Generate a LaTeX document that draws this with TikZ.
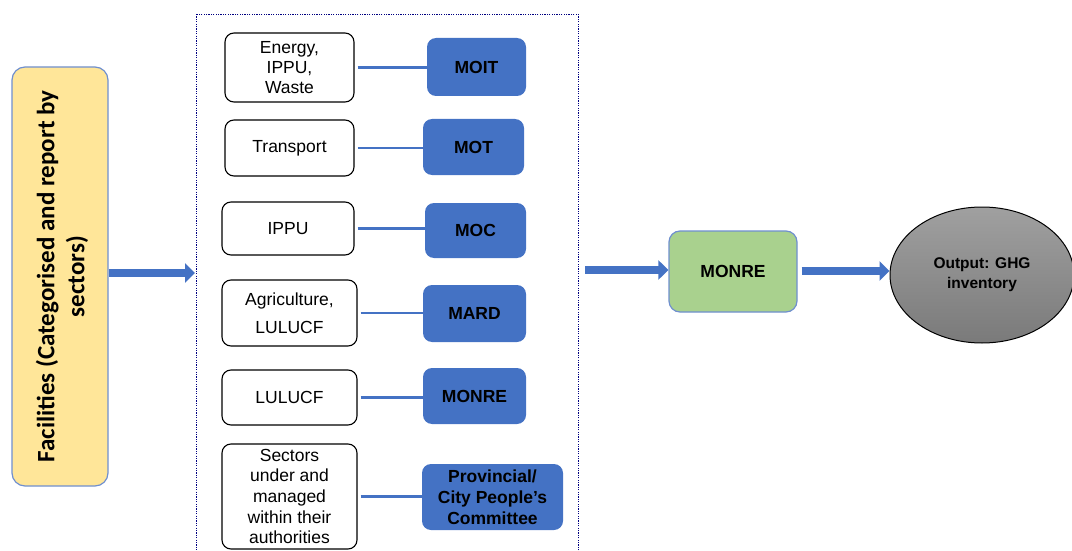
\documentclass[tikz,border=0pt]{standalone}
\usepackage{fontspec}
\setmainfont{Liberation Sans}
\newfontfamily\calibrifont{Carlito}
\usepackage{tikz}
\usetikzlibrary{arrows.meta, shapes.geometric}
\definecolor{mblue}{HTML}{4472C4}
\definecolor{lblue}{HTML}{6F8FCF}
\definecolor{myellow}{HTML}{FFE699}
\definecolor{mgreen}{HTML}{A9D18E}
\definecolor{dgray}{HTML}{7A7A7A}
\definecolor{lgray}{HTML}{A0A0A0}

\begin{document}
\begin{tikzpicture}[x=1pt, y=-1pt,
		sector/.style={draw=black, line width=1.1pt, rounded corners=9pt, fill=white,
			align=center, inner sep=0pt, font=\fontsize{17.5}{20}\selectfont},
		ministry/.style={fill=mblue, rounded corners=9pt, align=center, inner sep=0pt,
			font=\fontsize{17.5}{21}\selectfont\bfseries},
		link/.style={mblue, line width=2.6pt, shorten <=3pt},
		bigarrow/.style={mblue, line width=8pt, -{Triangle[length=10pt, width=19pt]}}]
		\clip (0,0) rectangle (1072,551);
		\useasboundingbox (0,0) rectangle (1072,551);
		% facilities
		\node[draw=lblue, line width=1.2pt, fill=myellow, rounded corners=13pt,
			minimum width=96pt, minimum height=419pt] (fac) at (60,276.5) {};
		\node[rotate=90, align=center, font=\fontsize{25}{30}\selectfont\calibrifont\bfseries]
			at ([xshift=2pt]fac.center) {Facilities (Categorised and report by\\sectors)};
		% dashed frame
		\draw[blue!50!black, line width=0.9pt, dash pattern=on 1.2pt off 1.2pt]
			(196,14) rectangle (578,570);
		% sectors
		\node[sector, minimum width=129pt, minimum height=69pt] (s1) at (289.5,67.5) {Energy,\\IPPU,\\Waste};
		\node[sector, minimum width=129pt, minimum height=56pt] (s2) at (289.5,148) {Transport};
		\node[sector, minimum width=132pt, minimum height=53pt] (s3) at (288,228.5) {IPPU};
		\node[sector, minimum width=135pt, minimum height=66pt] (s4) at (289.5,313) {Agriculture,\\[8pt]LULUCF};
		\node[sector, minimum width=135pt, minimum height=55pt] (s5) at (289.5,397.5) {LULUCF};
		\node[sector, minimum width=135pt, minimum height=105pt, font=\fontsize{17.5}{20.6}\selectfont] (s6) at (289.5,496.5)
			{Sectors\\under and\\managed\\within their\\authorities};
		% ministries
		\node[ministry, minimum width=99pt, minimum height=58pt] (m1) at (476.5,67) {MOIT};
		\node[ministry, minimum width=101pt, minimum height=56pt] (m2) at (473.5,147) {MOT};
		\node[ministry, minimum width=101pt, minimum height=55pt] (m3) at (475.5,230.5) {MOC};
		\node[ministry, minimum width=103pt, minimum height=57pt] (m4) at (474.5,313.5) {MARD};
		\node[ministry, minimum width=103pt, minimum height=56pt] (m5) at (474.5,396) {MONRE};
		\node[ministry, minimum width=141pt, minimum height=66pt] (m6) at (492.5,497)
			{Provincial/\\City People's\\Committee};
		\foreach \i in {1,...,6}
			\draw[link] (s\i.east) -- (s\i.east -| m\i.west);
		% monre and output
		\node[draw=lblue, line width=1.2pt, fill=mgreen, rounded corners=11pt,
			minimum width=128pt, minimum height=81pt, font=\fontsize{17.5}{21}\selectfont\bfseries]
			(monre) at (733,271.5) {MONRE};
		\node[ellipse, draw=black, line width=1pt, top color=lgray, bottom color=dgray,
			minimum width=184pt, minimum height=136pt, align=center,
			font=\fontsize{15.5}{20}\selectfont\bfseries] (out) at (982,275) {Output: GHG\\inventory};
		\coordinate (fr) at (195,273);
		\coordinate (fl) at (585,270);
		\draw[bigarrow] (fac.east |- fr) -- (fr);
		\draw[bigarrow] (fl) -- (monre.west |- fl);
		\draw[bigarrow] (monre.east |- 0,271) ++(4,0) -- (out.west |- 0,271);
	\end{tikzpicture}
\end{document}
